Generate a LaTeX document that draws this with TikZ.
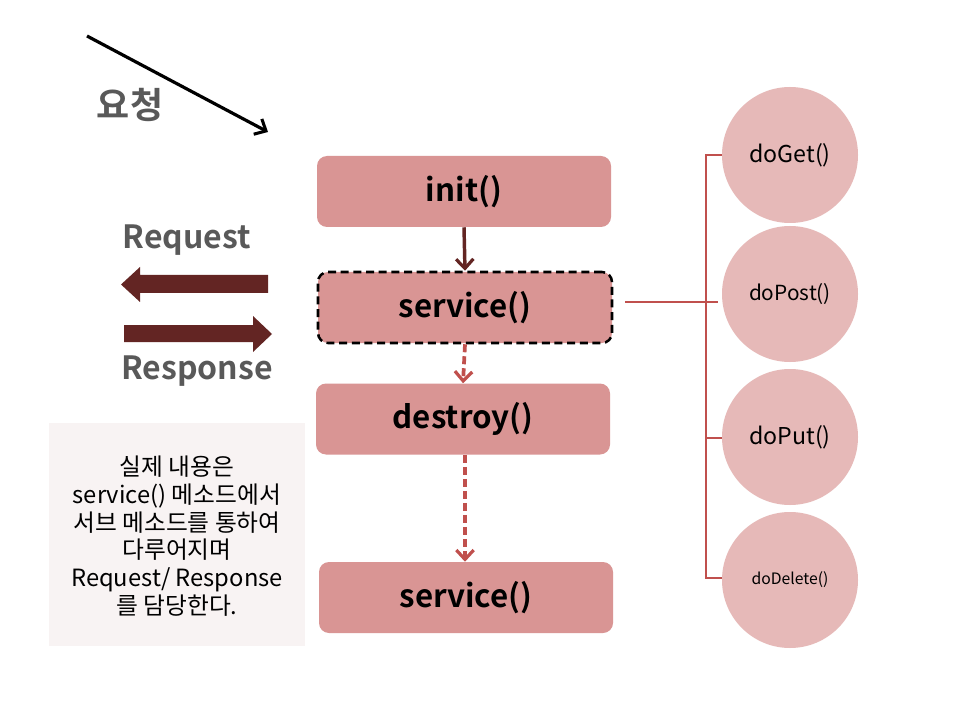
\documentclass[tikz,border=0pt]{standalone}
\usepackage{fontspec}
\setmainfont{Noto Sans CJK KR}[BoldFont={Noto Sans CJK KR Bold}]
\usetikzlibrary{arrows.meta}
\definecolor{boxfill}{HTML}{D99594}
\definecolor{circfill}{HTML}{E6B9B8}
\definecolor{darkred}{HTML}{632523}
\definecolor{linered}{HTML}{C0504D}
\definecolor{graytext}{HTML}{595959}
\definecolor{notefill}{HTML}{F8F3F3}
\tikzset{
  px/.style={x=0.75pt,y=-0.75pt},
  stagebox/.style={fill=boxfill,rounded corners=7.5pt,minimum width=220.5pt,minimum height=53.25pt,inner sep=0pt,font=\fontsize{23.5}{28}\selectfont\bfseries},
  method/.style={circle,fill=circfill,minimum size=102pt,inner sep=0pt},
  solidarrow/.style={draw=darkred,line width=2.6pt,-{Straight Barb[length=7pt,width=13pt,line width=2.4pt]}},
  dasharrow/.style={draw=linered,line width=2.8pt,dash pattern=on 6pt off 3pt,-{Straight Barb[length=7pt,width=13pt,line width=2.4pt]}},
  bracket/.style={draw=linered,line width=1.1pt},
  sidelabel/.style={text=graytext,font=\fontsize{24}{28}\selectfont\bfseries},
}
\begin{document}
\begin{tikzpicture}[px]
\useasboundingbox (0,0) rectangle (960,720);
\fill[white] (0,0) rectangle (960,720);
% request arrow
\coordinate (rqA) at (87,36);
\coordinate (rqB) at (268,132);
\draw[line width=2.4pt,-{Straight Barb[length=7pt,width=13pt,line width=2.3pt]}] (rqA) -- (rqB);
\node[text=graytext,font=\fontsize{27}{30}\selectfont\bfseries] (yocheong) at (130,105) {요청};
% lifecycle boxes
\node[stagebox] (init) at (464,191.5) {init()};
\node[stagebox,draw=black,line width=1.9pt,dash pattern=on 6pt off 3.5pt] (svc1) at (465,307.5) {service()};
\node[stagebox] (destroy) at (463,419) {destroy()};
\node[stagebox] (svc2) at (466,597.5) {service()};
\draw[solidarrow] (init.south) -- (svc1.north);
\draw[dasharrow] (svc1.south) -- (destroy.north);
\draw[dasharrow] ([xshift=1.5pt]destroy.south) -- ([xshift=-0.75pt]svc2.north);
% request / response
\node[sidelabel] (reqlabel) at (187,240) {Request};
\node[sidelabel] (reslabel) at (197,371) {Response};
\fill[darkred] (268,275) -- (140,275) -- (140,267) -- (121,284.5) -- (140,302) -- (140,293) -- (268,293) -- cycle;
\fill[darkred] (124,325) -- (253,325) -- (253,316) -- (272,334) -- (253,352) -- (253,342) -- (124,342) -- cycle;
% note
\node[fill=notefill,minimum width=192pt,minimum height=167.25pt,inner sep=0pt] (notebox) at (177,534.5) {};
\node[align=center,font=\fontsize{17.8}{20.8}\selectfont] (notetext) at (177,536) {실제 내용은\\service() 메소드에서\\서브 메소드를 통하여\\다루어지며\\Request/ Response\\를 담당한다.};
% methods
\node[method] (get) at (790,155) {\fontsize{17.4}{20}\selectfont doGet()};
\node[method] (post) at (790,294) {\fontsize{15.6}{18}\selectfont doPost()};
\node[method] (put) at (790,437) {\fontsize{17.4}{20}\selectfont doPut()};
\node[method] (delete) at (790,580) {\fontsize{11.8}{14}\selectfont doDelete()};
\coordinate (brTop) at (706,155);
\coordinate (brBot) at (706,578);
\coordinate (brMid) at (706,302);
\coordinate (brPut) at (706,438);
\draw[bracket] (get.west |- brTop) -- (brTop) -- (brBot) -- (delete.west |- brBot);
\draw[bracket] (brPut) -- (put.west |- brPut);
\draw[bracket] ([xshift=9pt]svc1.east |- brMid) -- ([xshift=-3pt]post.west |- brMid);
\end{tikzpicture}
\end{document}
